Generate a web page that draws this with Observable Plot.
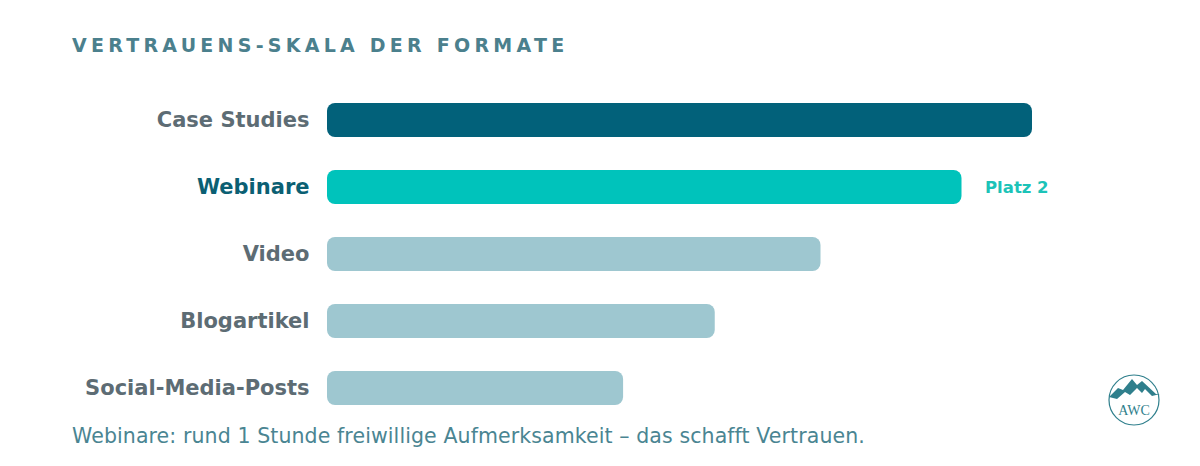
<!DOCTYPE html>
<html>
<head>
<meta charset="utf-8">
<script src="https://cdn.jsdelivr.net/npm/d3@7"></script>
<script src="https://cdn.jsdelivr.net/npm/@observablehq/plot@0.6"></script>
<style>
  html, body { margin: 0; padding: 0; background: #ffffff; }
  body { width: 1200px; height: 466px; position: relative; overflow: hidden; font-family: "DejaVu Sans", sans-serif; }
  #title { position: absolute; left: 72px; top: 34px; font-size: 19px; font-weight: 700; letter-spacing: 4.25px; color: #4b808d; white-space: nowrap; }
  #chart { position: absolute; left: 0; top: 86px; }
  #caption { position: absolute; left: 72px; top: 424px; font-size: 20.5px; letter-spacing: 0.1px; color: #4a8592; white-space: nowrap; }
  #logo { position: absolute; left: 1106px; top: 372px; }
</style>
</head>
<body>
<div id="title">VERTRAUENS-SKALA DER FORMATE</div>
<div id="chart"></div>
<div id="caption">Webinare: rund 1 Stunde freiwillige Aufmerksamkeit – das schafft Vertrauen.</div>
<svg id="logo" width="56" height="56" viewBox="0 0 56 56">
  <circle cx="28" cy="28" r="25" fill="none" stroke="#2f7f8c" stroke-width="1.2"/>
  <path d="M3 25 L12 16 L17 18 L26 7 L31 13 L36 9 L50 22 L54 22 L46 24 L39 17 L36 21 L31 16 L24 23 L19 20 L11 27 Z" fill="#2f7f8c"/>
  <text x="28" y="43" text-anchor="middle" font-family="Liberation Serif, serif" font-size="14" fill="#2f7f8c">AWC</text>
</svg>
<script>
// Formats, ranked by trust (relative scale, top format = 100)
const formats = ["Case Studies", "Webinare", "Video", "Blogartikel", "Social-Media-Posts"];
const trust = [100, 90, 70, 55, 42];
const barColors = ["#02617a", "#00c3bb", "#9ec7d0", "#9ec7d0", "#9ec7d0"];
const labelColors = ["#5d6c74", "#0b5f73", "#5d6c74", "#5d6c74", "#5d6c74"];
const highlight = "Webinare";
const highlightNote = "Platz 2";

const rows = formats.map((f, i) => ({format: f, trust: trust[i], bar: barColors[i], label: labelColors[i]}));

const chart = Plot.plot({
  width: 1200,
  height: 336,
  marginLeft: 327,
  marginRight: 168,
  marginTop: 0,
  marginBottom: 0,
  x: {domain: [0, 100], axis: null},
  y: {domain: formats, paddingInner: 0.49, paddingOuter: 0.25, axis: null},
  marks: [
    Plot.barX(rows, {y: "format", x: "trust", fill: "bar", rx: 8}),
    Plot.text(rows, {
      y: "format", x: 0, text: "format", fill: "label",
      textAnchor: "end", dx: -18, fontSize: 21, fontWeight: 700
    }),
    Plot.text(rows.filter(d => d.format === highlight), {
      y: "format", x: "trust", text: () => highlightNote,
      textAnchor: "start", dx: 23, fontSize: 16.5, fontWeight: 700, fill: "#1cc3b8"
    })
  ],
  style: {fontFamily: "'DejaVu Sans', sans-serif", background: "transparent", overflow: "visible"}
});
document.getElementById("chart").appendChild(chart);
</script>
</body>
</html>
